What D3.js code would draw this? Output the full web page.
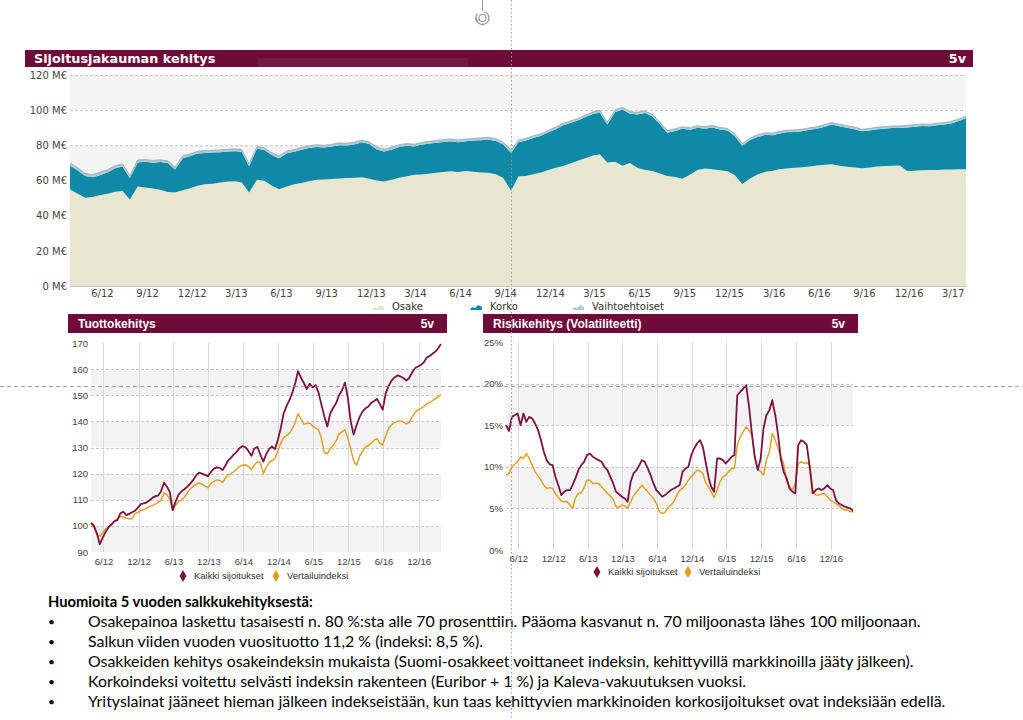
<!DOCTYPE html>
<html lang="fi">
<head>
<meta charset="utf-8">
<title>Salkkukehitys 5v</title>
<script src="https://cdn.jsdelivr.net/npm/d3@7/dist/d3.min.js"></script>
<style>
  body { margin: 0; background: #fff; }
  svg { display: block; }
</style>
</head>
<body>
<svg id="chart" width="1023" height="720"></svg>
<script>
// --- data, half-monthly points from 28.3.2012 to 28.3.2017 ---
const osake = [54.9,52.4,50.2,50.6,51.6,52.4,53.6,54.0,49.2,56.6,
  56.0,55.4,54.8,53.4,53.2,54.4,55.6,57.0,57.8,58.2,
  58.8,59.4,59.6,58.8,53.2,60.4,59.8,57.2,55.0,56.6,
  57.8,58.6,59.6,60.4,60.6,60.8,61.2,61.4,61.6,61.8,
  61.0,60.0,59.4,60.4,61.6,62.4,63.2,63.4,63.8,64.4,
  64.8,65.2,64.8,65.4,65.0,64.6,64.4,63.6,61.4,54.2,
  62.4,62.6,63.6,64.6,66.0,67.2,68.2,69.8,71.4,72.8,
  74.4,74.8,70.2,70.6,68.4,70.0,67.2,66.0,65.4,64.0,
  62.6,62.0,61.0,63.4,66.0,66.8,66.4,65.8,65.2,63.0,
  58.0,61.2,63.4,65.0,65.6,66.4,66.8,67.2,67.6,68.0,
  68.6,69.0,69.2,68.4,67.8,67.4,67.0,67.4,68.0,68.2,
  68.4,68.6,65.4,65.6,65.8,66.0,66.0,66.2,66.2,66.4,
  66.4];
const korko = [13.5,13.3,12.3,11.2,11.4,12.3,13.3,14.0,12.2,13.6,
  14.7,14.7,15.7,16.5,13.1,18.3,18.3,18.3,17.9,17.7,
  17.3,17.1,17.1,17.5,14.9,17.7,17.5,17.3,17.7,18.9,
  18.5,18.9,18.9,18.7,18.1,18.5,18.9,18.5,18.9,19.9,
  19.7,17.7,17.1,17.3,17.5,17.3,16.1,16.9,17.1,17.1,
  17.1,17.1,16.9,16.9,17.7,18.3,18.9,18.9,19.1,21.5,
  19.4,20.2,20.6,20.8,21.4,22.0,23.2,23.0,22.8,23.4,
  23.6,23.8,21.6,28.4,32.0,28.0,30.4,32.4,31.0,28.2,
  24.6,26.2,28.4,25.4,24.0,22.6,23.8,23.2,23.2,22.2,
  21.8,21.8,21.4,21.0,20.2,20.4,20.6,20.4,20.4,20.8,
  20.8,21.6,22.6,22.4,22.2,21.8,21.0,21.0,21.2,21.2,
  21.4,21.2,24.8,25.0,25.2,24.8,25.4,25.6,26.4,27.4,
  29.0];
const vaihto = [1.6,1.5,1.5,1.6,1.6,1.5,1.5,1.4,1.4,1.4,
  1.3,1.3,1.3,1.3,1.3,1.3,1.3,1.3,1.3,1.3,
  1.3,1.3,1.3,1.3,1.3,1.3,1.3,1.3,1.3,1.3,
  1.3,1.3,1.3,1.3,1.3,1.3,1.3,1.3,1.3,1.3,
  1.3,1.3,1.3,1.3,1.3,1.3,1.3,1.3,1.3,1.3,
  1.3,1.3,1.3,1.3,1.3,1.3,1.3,1.3,1.3,1.3,
  1.2,1.2,1.2,1.2,1.2,1.2,1.2,1.2,1.2,1.2,
  1.2,1.2,1.2,1.2,1.2,1.2,1.2,1.2,1.2,1.2,
  1.2,1.2,1.2,1.2,1.2,1.2,1.2,1.2,1.2,1.2,
  1.2,1.2,1.2,1.2,1.2,1.2,1.2,1.2,1.2,1.2,
  1.2,1.2,1.2,1.2,1.2,1.2,1.2,1.2,1.2,1.2,
  1.2,1.2,1.2,1.2,1.2,1.2,1.2,1.2,1.2,1.2,
  1.2];

const kaikkiTuotto = [101.1,100.0,97.0,93.0,95.5,97.8,99.5,100.6,101.8,102.2,
  104.8,105.4,104.1,104.6,105.2,105.8,107.0,108.3,108.6,109.0,
  109.8,110.8,111.4,111.6,113.2,116.5,115.0,113.0,106.0,109.5,
  112.0,113.2,114.0,115.0,116.2,117.6,119.4,120.4,120.0,119.5,
  119.0,120.6,121.8,122.4,122.2,121.4,123.2,125.0,126.0,127.4,
  128.4,129.8,130.6,130.0,128.6,126.8,129.6,130.2,127.4,124.6,
  127.4,129.4,130.4,129.4,133.0,137.4,143.0,146.0,148.2,151.4,
  155.0,159.2,156.8,154.6,152.4,154.4,153.0,153.8,151.0,146.4,
  142.0,138.0,143.0,145.2,147.0,150.0,151.8,154.8,149.0,140.0,
  135.0,138.6,141.6,143.8,145.0,145.6,147.0,147.8,148.6,146.6,
  144.5,150.8,153.6,155.6,156.8,157.6,157.2,156.6,155.6,156.6,
  158.6,160.4,161.0,161.6,162.6,164.4,165.0,166.0,166.8,168.0,
  169.6];
const vertailuTuotto = [100.5,99.2,96.8,96.0,97.4,98.8,99.6,100.6,101.6,102.8,
  103.6,103.4,103.0,102.6,102.8,104.6,105.2,105.8,106.2,106.8,
  107.4,107.8,108.4,109.0,109.8,112.6,112.0,110.0,106.0,108.0,
  109.4,109.8,111.0,112.8,114.2,115.2,116.0,116.4,116.0,115.2,
  114.6,116.2,117.0,117.6,117.4,116.6,118.4,119.4,120.0,120.8,
  121.8,122.8,123.2,123.4,122.6,121.6,123.2,124.6,124.2,120.0,
  122.4,124.2,125.0,125.8,128.8,131.6,133.8,134.6,135.6,137.4,
  140.0,143.0,141.0,139.0,139.2,139.4,138.2,137.4,136.8,133.6,
  128.0,127.6,129.6,130.8,132.6,135.2,136.0,136.8,133.6,129.4,
  125.0,123.2,126.6,128.6,130.2,130.8,131.6,132.8,133.4,131.6,
  131.0,134.6,137.4,138.6,139.6,140.0,140.2,139.8,139.0,139.6,
  141.6,143.4,144.4,145.0,145.6,146.8,147.2,148.0,148.6,149.4,
  150.2];

const kaikkiRiski = [15.0,14.3,16.0,16.2,16.4,15.0,16.4,15.4,16.0,15.8,
  15.2,14.4,13.2,11.8,10.8,10.3,10.2,8.8,7.8,6.6,
  7.0,7.2,7.2,7.8,8.6,9.6,10.2,10.6,11.4,11.6,
  11.2,11.0,10.8,10.6,10.0,9.6,8.8,8.0,7.0,6.7,
  6.4,6.2,5.8,8.2,9.2,9.6,10.2,10.8,10.6,9.8,
  9.0,8.0,7.2,6.8,6.4,6.6,6.9,7.2,7.4,7.6,
  7.8,9.4,9.8,10.0,11.4,12.2,12.8,13.2,12.4,10.4,
  8.6,7.6,7.0,11.0,11.0,10.8,10.4,10.8,11.2,11.4,
  18.6,19.0,19.4,19.8,17.2,14.0,11.2,9.6,11.0,14.6,
  16.2,16.8,18.0,16.2,13.8,11.0,9.4,8.6,7.4,7.0,
  6.8,12.6,13.2,13.0,12.6,9.8,6.8,7.2,7.4,7.2,
  7.4,7.8,7.4,7.2,6.0,5.6,5.4,5.2,5.1,5.0,
  4.7];
const vertailuRiski = [9.0,9.2,10.0,10.3,10.6,11.2,11.0,11.6,11.0,10.2,
  9.4,8.9,8.4,7.8,7.4,7.5,7.4,6.8,6.3,5.9,
  5.8,5.8,5.4,5.0,6.2,6.8,6.9,7.5,8.4,8.4,
  8.0,8.0,8.0,7.6,7.2,6.8,6.5,6.1,5.2,5.1,
  5.4,5.3,5.0,5.8,6.5,7.0,7.4,7.8,7.4,7.0,
  6.6,6.2,5.6,4.6,4.4,4.5,5.1,5.4,5.8,6.6,
  7.2,7.4,7.8,8.4,8.8,9.2,9.6,9.5,9.2,8.0,
  7.6,7.0,6.3,7.2,8.2,8.8,9.0,9.4,9.8,9.8,
  12.6,13.6,14.2,14.8,14.4,13.8,11.2,9.8,9.4,9.0,
  10.8,11.8,14.0,13.2,12.2,11.2,10.4,8.2,7.6,7.2,
  8.0,10.4,10.6,10.4,10.5,10.2,7.2,6.6,6.6,6.7,
  6.8,6.4,6.0,5.8,5.6,5.3,5.0,4.8,4.8,4.6,
  4.6];

const topTickLabels = ["6/12","9/12","12/12","3/13","6/13","9/13","12/13","3/14","6/14","9/14",
  "12/14","3/15","6/15","9/15","12/15","3/16","6/16","9/16","12/16","3/17"];
const halfYearTickLabels = ["6/12","12/12","6/13","12/13","6/14","12/14","6/15","12/15","6/16","12/16"];

const notesTitle = "Huomioita 5 vuoden salkkukehityksestä:";
const notes = [
  "Osakepainoa laskettu tasaisesti n. 80 %:sta alle 70 prosenttiin. Pääoma kasvanut n. 70 miljoonasta lähes 100 miljoonaan.",
  "Salkun viiden vuoden vuosituotto 11,2 % (indeksi: 8,5 %).",
  "Osakkeiden kehitys osakeindeksin mukaista (Suomi-osakkeet voittaneet indeksin, kehittyvillä markkinoilla jääty jälkeen).",
  "Korkoindeksi voitettu selvästi indeksin rakenteen (Euribor + 1 %) ja Kaleva-vakuutuksen  vuoksi.",
  "Yrityslainat jääneet hieman jälkeen indekseistään, kun taas kehittyvien markkinoiden korkosijoitukset ovat indeksiään edellä."
];

// --- setup ---
const svg = d3.select("#chart");
const MAROON = "#6d0b39";
const C_OSAKE = "#e8e6d1", C_KORKO = "#0f89a5", C_VAIHTO = "#a9ccd7";
const C_KAIKKI = "#7a1342", C_VERT = "#e39b1b";

const dates = d3.range(osake.length).map(i => new Date(2012, 2 + Math.floor((i + 1) / 2), i % 2 === 0 ? 28 : 13));
const parseTick = d3.timeParse("%m/%y");
const fmtTick = d3.timeFormat("%-m/%y");

svg.append("rect").attr("width", 1023).attr("height", 720).attr("fill", "#fff");

function header(x0, x1, y0, y1, title, font, size, tx, fx) {
  svg.append("rect").attr("x", x0).attr("y", y0).attr("width", x1 - x0).attr("height", y1 - y0).attr("fill", MAROON);
  const base = y0 + (y1 - y0) / 2 + size * 0.36;
  svg.append("text").attr("x", tx).attr("y", base).attr("fill", "#fff")
    .style("font", `bold ${size}px '${font}'`).text(title);
  svg.append("text").attr("x", fx).attr("y", base).attr("fill", "#fff").attr("text-anchor", "end")
    .style("font", `bold ${size}px '${font}'`).text("5v");
}

// --- Sijoitusjakauman kehitys ---
header(25, 973, 50, 67, "Sijoitusjakauman kehitys", "DejaVu Sans", 12.8, 34, 966);
svg.append("rect").attr("x", 258).attr("y", 58).attr("width", 210).attr("height", 16)
  .attr("fill", "#fff").attr("opacity", 0.06);

const T = { left: 70, right: 966, top: 75, bottom: 286 };
const xTop = d3.scaleTime().domain(d3.extent(dates)).range([T.left, T.right]);
const yTop = d3.scaleLinear().domain([0, 120]).range([T.bottom, T.top]);
const gTop = svg.append("g");

gTop.selectAll("rect.band").data([[100, 120], [60, 80], [20, 40]]).enter().append("rect")
  .attr("x", T.left).attr("width", T.right - T.left)
  .attr("y", d => yTop(d[1])).attr("height", d => yTop(d[0]) - yTop(d[1]))
  .attr("fill", "#f4f4f4");
gTop.selectAll("line.grid").data([20, 40, 60, 80, 100, 120]).enter().append("line")
  .attr("x1", T.left).attr("x2", T.right).attr("y1", d => yTop(d) + 0.5).attr("y2", d => yTop(d) + 0.5)
  .attr("stroke", "#c8c8c8").attr("stroke-dasharray", "3,2");

const rows = dates.map((d, i) => ({ date: d, osake: osake[i], korko: korko[i], vaihto: vaihto[i] }));
const layers = d3.stack().keys(["osake", "korko", "vaihto"])(rows);
const area = d3.area().x(d => xTop(d.data.date)).y0(d => yTop(d[0])).y1(d => yTop(d[1]));
const fills = { osake: C_OSAKE, korko: C_KORKO, vaihto: C_VAIHTO };
gTop.selectAll("path.layer").data(layers).enter().append("path")
  .attr("d", area).attr("fill", d => fills[d.key]);
gTop.append("path").datum(layers[2])
  .attr("d", d3.line().x(d => xTop(d.data.date)).y(d => yTop(d[1])))
  .attr("fill", "none").attr("stroke", "#8c9ea5").attr("stroke-width", 0.7);

gTop.append("g").attr("transform", `translate(${T.left},0)`)
  .call(d3.axisLeft(yTop).tickValues([0, 20, 40, 60, 80, 100, 120]).tickFormat(d => d + " M€").tickSize(0).tickPadding(3))
  .call(g => g.select(".domain").remove())
  .selectAll("text").style("font", "10px 'DejaVu Sans'").attr("fill", "#444");
gTop.append("g").attr("transform", `translate(0,${T.bottom})`)
  .call(d3.axisBottom(xTop).tickValues(topTickLabels.map(parseTick)).tickFormat(fmtTick).tickSize(0).tickPadding(4))
  .call(g => g.select(".domain").attr("stroke", "#c8c8c8"))
  .selectAll("text").style("font", "10px 'DejaVu Sans'").attr("fill", "#444");

const topLegend = [
  { name: "Osake", color: C_OSAKE, x: 372 },
  { name: "Korko", color: C_KORKO, x: 470 },
  { name: "Vaihtoehtoiset", color: C_VAIHTO, x: 572 }
];
const lg = gTop.selectAll("g.lg").data(topLegend).enter().append("g")
  .attr("transform", d => `translate(${d.x},306)`);
lg.append("path").attr("d", "M0,4 L2,1 L5,2 L8,-1 L12,1 L12,4 Z").attr("fill", d => d.color);
lg.append("text").attr("x", 20).attr("y", 4).text(d => d.name)
  .style("font", "10px 'DejaVu Sans'").attr("fill", "#333");

// --- small line charts ---
function smallChart(o) {
  header(o.hx0, o.hx1, 314, 333, o.title, "Liberation Sans", 12, o.hx0 + 10, o.hx1 - 13);
  const g = svg.append("g");
  const x = d3.scaleTime().domain(d3.extent(dates)).range([o.left, o.right]);
  const y = d3.scaleLinear().domain(o.yDomain).range([o.bottom, o.top]);
  const ticks = halfYearTickLabels.map(parseTick);

  g.selectAll("rect.band").data(o.bands).enter().append("rect")
    .attr("x", o.left).attr("width", o.right - o.left)
    .attr("y", d => y(d[1])).attr("height", d => y(d[0]) - y(d[1]))
    .attr("fill", "#f3f3f3");
  g.selectAll("line.v").data(ticks).enter().append("line")
    .attr("x1", d => Math.round(x(d)) + 0.5).attr("x2", d => Math.round(x(d)) + 0.5)
    .attr("y1", o.top).attr("y2", o.bottom).attr("stroke", "#d9d9d9");
  g.selectAll("line.h").data(o.yTicks.slice(1, -1)).enter().append("line")
    .attr("x1", o.left).attr("x2", o.right).attr("y1", d => Math.round(y(d)) + 0.5).attr("y2", d => Math.round(y(d)) + 0.5)
    .attr("stroke", "#c8c8c8").attr("stroke-dasharray", "3,2");

  g.append("g").attr("transform", `translate(${o.left},0)`)
    .call(d3.axisLeft(y).tickValues(o.yTicks).tickFormat(o.fmt).tickSize(0).tickPadding(3))
    .call(a => a.select(".domain").remove())
    .selectAll("text").style("font", "9.5px 'Liberation Sans'").attr("fill", "#444");
  g.append("g").attr("transform", `translate(0,${o.bottom})`)
    .call(d3.axisBottom(x).tickValues(ticks).tickFormat(fmtTick).tickSize(0).tickPadding(o.xPad))
    .call(a => a.select(".domain").remove())
    .selectAll("text").style("font", "9.5px 'Liberation Sans'").attr("fill", "#444");

  const line = d3.line().x((d, i) => x(dates[i])).y(d => y(d));
  g.append("path").datum(o.vert).attr("d", line).attr("fill", "none")
    .attr("stroke", C_VERT).attr("stroke-width", 1.4).attr("stroke-linejoin", "round");
  g.append("path").datum(o.kaikki).attr("d", line).attr("fill", "none")
    .attr("stroke", C_KAIKKI).attr("stroke-width", 1.8).attr("stroke-linejoin", "round");

  const items = [
    { name: "Kaikki sijoitukset", color: C_KAIKKI, x: o.legX[0] },
    { name: "Vertailuindeksi", color: C_VERT, x: o.legX[1] }
  ];
  const li = g.selectAll("g.li").data(items).enter().append("g")
    .attr("transform", d => `translate(${d.x},${o.legY})`);
  li.append("path").attr("d", d3.symbol(d3.symbolDiamond, 42)).attr("fill", d => d.color);
  li.append("text").attr("x", 11).attr("y", 3.4).text(d => d.name)
    .style("font", "9.5px 'Liberation Sans'").attr("fill", "#333");
}

smallChart({
  title: "Tuottokehitys", hx0: 68, hx1: 447,
  left: 91, right: 441, top: 343, bottom: 552,
  yDomain: [90, 170], yTicks: [90, 100, 110, 120, 130, 140, 150, 160, 170], fmt: d => d,
  bands: [[90, 100], [110, 120], [130, 140], [150, 160]],
  kaikki: kaikkiTuotto, vert: vertailuTuotto,
  xPad: 6, legX: [183, 276], legY: 576
});
smallChart({
  title: "Riskikehitys (Volatiliteetti)", hx0: 483, hx1: 858,
  left: 506, right: 853, top: 342, bottom: 550,
  yDomain: [0, 25], yTicks: [0, 5, 10, 15, 20, 25], fmt: d => d + "%",
  bands: [[5, 10], [15, 20]],
  kaikki: kaikkiRiski, vert: vertailuRiski,
  xPad: 5, legX: [597, 688], legY: 572
});

// --- notes ---
const gN = svg.append("g").style("font-family", "Lato, 'Open Sans', sans-serif").attr("fill", "#000");
const head = gN.append("text").attr("x", 48).attr("y", 607).style("font-weight", "bold").style("font-size", "13px").text(notesTitle);
head.style("font-size", (13 * 265 / head.node().getComputedTextLength()) + "px");
const noteTexts = gN.selectAll("text.note").data(notes).enter().append("text")
  .attr("class", "note").attr("x", 88).attr("y", (d, i) => 627 + i * 20).style("font-size", "15px").text(d => d);
const fs = 15 * 833 / noteTexts.nodes()[0].getComputedTextLength();
noteTexts.style("font-size", fs + "px");
gN.selectAll("text.bullet").data(notes).enter().append("text")
  .attr("x", 48).attr("y", (d, i) => 626 + i * 20).style("font-size", (fs * 0.75) + "px").text("•");

// --- slide guides and rotate handle ---
svg.append("line").attr("x1", 511.5).attr("x2", 511.5).attr("y1", 0).attr("y2", 720)
  .attr("stroke", "#9a9a9a").attr("stroke-dasharray", "1.5,2.5").attr("stroke-width", 1);
svg.append("line").attr("x1", 0).attr("x2", 1023).attr("y1", 386.5).attr("y2", 386.5)
  .attr("stroke", "#8a8a8a").attr("stroke-dasharray", "4,3").attr("stroke-width", 0.8);
const rot = svg.append("g").attr("transform", "translate(482.5,18)").attr("fill", "none").attr("stroke", "#9a9a9a");
rot.append("line").attr("x1", 0).attr("x2", 0).attr("y1", -18).attr("y2", -7);
rot.append("path").attr("d", d3.arc()({ innerRadius: 6.5, outerRadius: 6.5, startAngle: 0.3, endAngle: 2 * Math.PI - 0.9 }))
  .attr("stroke-width", 1.3);
rot.append("circle").attr("r", 3.5).attr("stroke-width", 1.1);
rot.append("path").attr("d", "M-7,-1 L-6,3 L-2.5,1").attr("stroke-width", 1.1);
</script>
</body>
</html>
